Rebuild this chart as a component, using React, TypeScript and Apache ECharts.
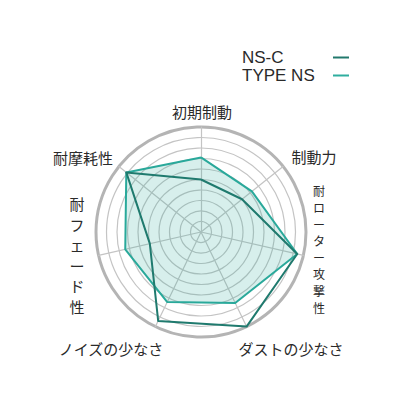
import { useEffect, useRef } from 'react';
import * as echarts from 'echarts';

// axes, counter-clockwise from the top (the order ECharts lays them out)
const INDICATORS = ['初期制動', '耐摩耗性', '耐フェード性', 'ノイズの少なさ', 'ダストの少なさ', '耐ローター攻撃性', '制動力'];
const VERTICAL = ['耐フェード性', '耐ローター攻撃性'];
const MAX = 10;

const NS_C = [5, 9.1, 5, 9.4, 10, 9.4, 5];
const TYPE_NS = [7.1, 9.1, 7.4, 7.4, 7.5, 9.4, 6.2];

const LEGEND = ['NS-C', 'TYPE NS'];

const CJK = '"Noto Sans CJK JP", "Noto Sans", sans-serif';

// where each axis name sits (x, y, font size, line height), same order as INDICATORS
const NAME_POS: [number, number, number, number][] = [
  [202, 111, 15, 16],
  [83, 157, 15, 16],
  [77, 255, 15, 20.5],
  [111, 348, 15, 16],
  [291, 348, 15, 16],
  [319, 249, 12, 16.6],
  [314, 156, 15, 16],
];

export default function App() {
  const ref = useRef<HTMLDivElement>(null);

  useEffect(() => {
    document.body.style.margin = '0';
    if (!ref.current) return;
    const chart = echarts.init(ref.current, null, { renderer: 'svg' });

    const indicator = INDICATORS.map((name) => ({ name, max: MAX, min: 0 }));
    const names = INDICATORS.map((name, i) => {
      const [x, y, fs, lh] = NAME_POS[i];
      const vertical = VERTICAL.includes(name);
      return {
        type: 'text',
        x,
        y,
        style: {
          text: vertical ? name.split('').join('\n') : name,
          fill: '#2a2a2a',
          font: `${fs}px ${CJK}`,
          align: 'center',
          verticalAlign: 'middle',
          lineHeight: lh,
        },
      };
    });

    chart.setOption({
      animation: false,
      backgroundColor: '#fff',
      legend: {
        data: LEGEND,
        orient: 'vertical',
        right: 51,
        top: 49,
        padding: 0,
        align: 'right',
        icon: 'rect',
        itemWidth: 16,
        itemHeight: 2,
        itemGap: 1,
        formatter: (n: string) => `{a|${n}}`,
        textStyle: {
          rich: {
            a: {
              width: 86,
              align: 'left',
              fontSize: 17,
              lineHeight: 20,
              color: '#2a2a2a',
              fontFamily: '"Liberation Sans", Arial, sans-serif',
            },
          },
        },
      },
      radar: [
        {
          center: [201, 232],
          radius: 105,
          startAngle: 90,
          shape: 'circle',
          splitNumber: 10,
          indicator,
          axisName: { show: false },
          axisLine: { lineStyle: { color: '#c4c4c4', width: 1.2 } },
          splitLine: { lineStyle: { color: '#c4c4c4', width: 1.2 } },
          splitArea: { show: false },
        },
        {
          center: [201, 232],
          radius: 105,
          startAngle: 90,
          shape: 'circle',
          splitNumber: 1,
          indicator,
          axisName: { show: false },
          axisLine: { show: false },
          splitLine: { lineStyle: { color: '#b4b4b4', width: 3 } },
          splitArea: { show: false },
          silent: true,
        },
      ],
      series: [
        {
          type: 'radar',
          radarIndex: 0,
          symbol: 'none',
          data: [
            {
              name: 'TYPE NS',
              value: TYPE_NS,
              itemStyle: { color: '#2fae9f' },
              lineStyle: { color: '#2aa99b', width: 2 },
              areaStyle: { color: 'rgba(42,170,156,0.27)' },
            },
            {
              name: 'NS-C',
              value: NS_C,
              itemStyle: { color: '#22796d' },
              lineStyle: { color: '#1f7a6e', width: 2 },
            },
          ],
        },
      ],
      graphic: names,
    });

    return () => chart.dispose();
  }, []);

  return <div ref={ref} style={{ width: 400, height: 406 }} />;
}
